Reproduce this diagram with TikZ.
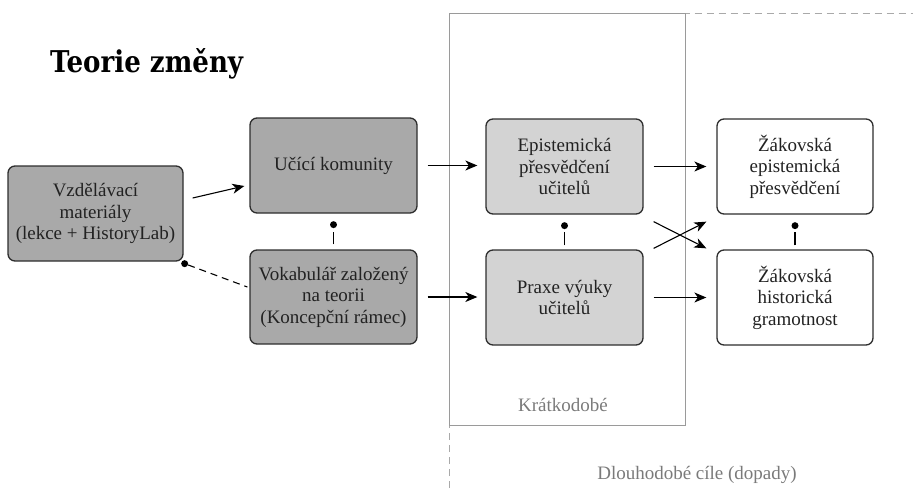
\documentclass[tikz,border=0pt]{standalone}
\usepackage{fontspec}
\setmainfont{Liberation Serif}
\newfontfamily\titlefont{DejaVu Serif}
\usetikzlibrary{arrows.meta}
\definecolor{darkfill}{HTML}{A9A9A9}
\definecolor{lightfill}{HTML}{D3D3D3}
\definecolor{edge}{HTML}{2E2E2E}
\definecolor{framegray}{HTML}{9A9A9A}
\definecolor{labelgray}{HTML}{7A7A7A}
\definecolor{bodytext}{HTML}{222222}
\tikzset{
  box/.style={draw=edge, line width=1.3pt, rounded corners=7pt, align=center,
    inner sep=2pt, text=bodytext, font=\fontsize{19}{21.5}\selectfont},
  darkbox/.style={box, fill=darkfill},
  lightbox/.style={box, fill=lightfill},
  whitebox/.style={box, fill=white},
  arr/.style={line width=1.1pt, -{Stealth[length=12pt,width=10pt,inset=3.5pt]}},
  linkline/.style={line width=1.1pt},
  dotmark/.style={fill=black, circle, inner sep=0pt, minimum size=7pt},
  framesolid/.style={draw=framegray, line width=1pt},
  framedash/.style={draw=framegray!85, line width=1pt, dash pattern=on 7pt off 5pt},
  graylabel/.style={text=labelgray, font=\fontsize{19}{21.5}\selectfont}
}
\begin{document}
\begin{tikzpicture}[x=1pt,y=-1pt]
\useasboundingbox (0,0) rectangle (913,488);
% frames
\draw[framedash] (449,488) -- (449,13.5) -- (913,13.5);
\draw[framesolid] (449,13.5) rectangle (685,425);
\node[graylabel] (short) at (563,405) {Krátkodobé};
\node[graylabel] (long) at (697,475) {Dlouhodobé cíle (dopady)};
% title
\node[anchor=base west, inner sep=0pt] (title) at (50,72)
  {\scalebox{0.87}[1]{\fontsize{30}{32}\selectfont\titlefont\bfseries Teorie změny}};
% boxes
\node[darkbox, minimum width=175pt, minimum height=95pt] (vm) at (95.5,213.5)
  {Vzdělávací\\materiály\\(lekce + HistoryLab)};
\node[darkbox, minimum width=167pt, minimum height=95pt] (uk) at (333.5,165.5)
  {Učící komunity};
\node[darkbox, minimum width=167pt, minimum height=94pt] (vok) at (333.5,297)
  {Vokabulář založený\\na teorii\\(Koncepční rámec)};
\node[lightbox, minimum width=157pt, minimum height=95pt] (ep) at (564.5,166.5)
  {Epistemická\\přesvědčení\\učitelů};
\node[lightbox, minimum width=157pt, minimum height=95pt] (pr) at (564.5,297.5)
  {Praxe výuky\\učitelů};
\node[whitebox, minimum width=156pt, minimum height=95pt] (ze) at (795,166.5)
  {Žákovská\\epistemická\\přesvědčení};
\node[whitebox, minimum width=156pt, minimum height=95pt] (zh) at (795,297.5)
  {Žákovská\\historická\\gramotnost};
% arrows
\draw[arr] ([shift={(9,-15.5)}]vm.east) -- ([shift={(-5,20.5)}]uk.west);
\draw[arr, shorten <=10pt, shorten >=8pt] (uk.east) -- (uk.east -| ep.west);
\draw[arr, shorten <=10pt, shorten >=8pt] (vok.east) -- (vok.east -| pr.west);
\draw[arr, shorten <=10pt, shorten >=10pt] (ep.east) -- (ze.west);
\draw[arr, shorten <=10pt, shorten >=10pt] (pr.east) -- (zh.west);
\draw[arr] ([shift={(10,7)}]ep.south east) -- ([shift={(-10,-1)}]zh.north west);
\draw[arr] ([shift={(10,-1)}]pr.north east) -- ([shift={(-10,7)}]ze.south west);
% dot links
\node[dotmark] (d1) at ([shift={(1,2)}]vm.south east) {};
\draw[linkline, dash pattern=on 7pt off 5pt] (d1) -- ([shift={(-2,-10)}]vok.west);
\node[dotmark] (d2) at ([yshift=-11pt]uk.south) {};
\draw[linkline] ([yshift=5pt]vok.north) -- ([yshift=17pt]vok.north);
\node[dotmark] (d3) at ([yshift=-11pt]ep.south) {};
\draw[linkline] ([yshift=4pt]pr.north) -- ([yshift=17pt]pr.north);
\node[dotmark] (d4) at ([yshift=-11pt]ze.south) {};
\draw[linkline] ([yshift=4pt]zh.north) -- ([yshift=17pt]zh.north);
\end{tikzpicture}
\end{document}
